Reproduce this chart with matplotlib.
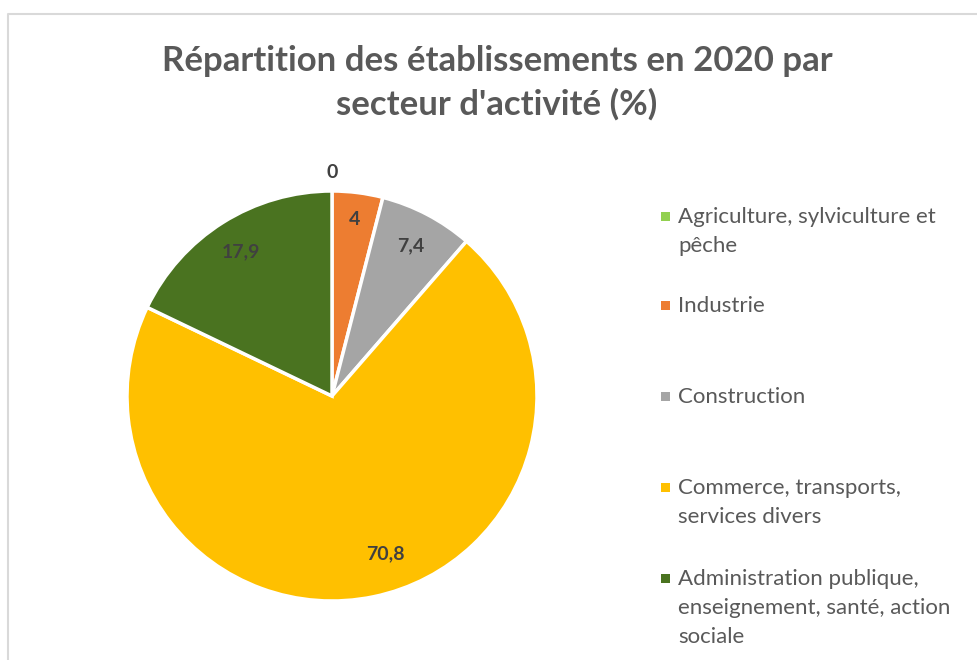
import numpy as np
import matplotlib
matplotlib.use("Agg")
import matplotlib.pyplot as plt
from matplotlib.patches import Rectangle

categories = ["Agriculture, sylviculture et\npêche", "Industrie", "Construction",
              "Commerce, transports,\nservices divers",
              "Administration publique,\nenseignement, santé, action\nsociale"]
values = [0, 4, 7.4, 70.8, 17.9]
value_labels = ["0", "4", "7,4", "70,8", "17,9"]
colors = ["#92D050", "#ED7D31", "#A5A5A5", "#FFC000", "#4A7320"]
title = "Répartition des établissements en 2020 par\nsecteur d'activité (%)"

plt.rcParams['font.family'] = ['Lato', 'DejaVu Sans']

W, H = 978, 660
fig = plt.figure(figsize=(W / 100, H / 100), dpi=100)

# overlay in pixel coordinates for frame/title/legend
ov = fig.add_axes([0, 0, 1, 1])
ov.set_xlim(0, W)
ov.set_ylim(H, 0)
ov.axis("off")
ov.plot([7.5, 7.5, W], [H, 13.5, 13.5], color="#D9D9D9", lw=1.5, solid_capstyle="butt")

ov.text(497, 83, title, ha="center", va="center", fontsize=25, fontweight="bold",
        color="#595959", linespacing=1.4)

cx, cy, r = 332, 396, 205
ax = fig.add_axes([(cx - r) / W, (H - cy - r) / H, 2 * r / W, 2 * r / H])
wedges, _ = ax.pie(values, colors=colors, startangle=90, counterclock=False,
                   wedgeprops=dict(edgecolor="white", linewidth=2.5))
ax.set_xlim(-1, 1)
ax.set_ylim(-1, 1)
ax.set_aspect("auto")

dists = [1.09, 0.87, 0.83, 0.81, 0.83]
angle_tweak = [0, 0, 0, 7, 0]
for w, lab, d, tw in zip(wedges, value_labels, dists, angle_tweak):
    ang = np.deg2rad((w.theta1 + w.theta2) / 2 + tw)
    ax.text(d * np.cos(ang), d * np.sin(ang), lab, ha="center", va="center",
            fontsize=14, fontweight="bold", color="#404040")

leg_y = [216, 305, 396, 487, 578]
for y, lab, c in zip(leg_y, categories, colors):
    ov.add_patch(Rectangle((661, y - 4.5), 9, 9, facecolor=c, edgecolor="none"))
    ov.text(678, y - 9, lab, ha="left", va="top", fontsize=16, color="#595959",
            linespacing=1.55)

fig.savefig("out.png", dpi=100)
